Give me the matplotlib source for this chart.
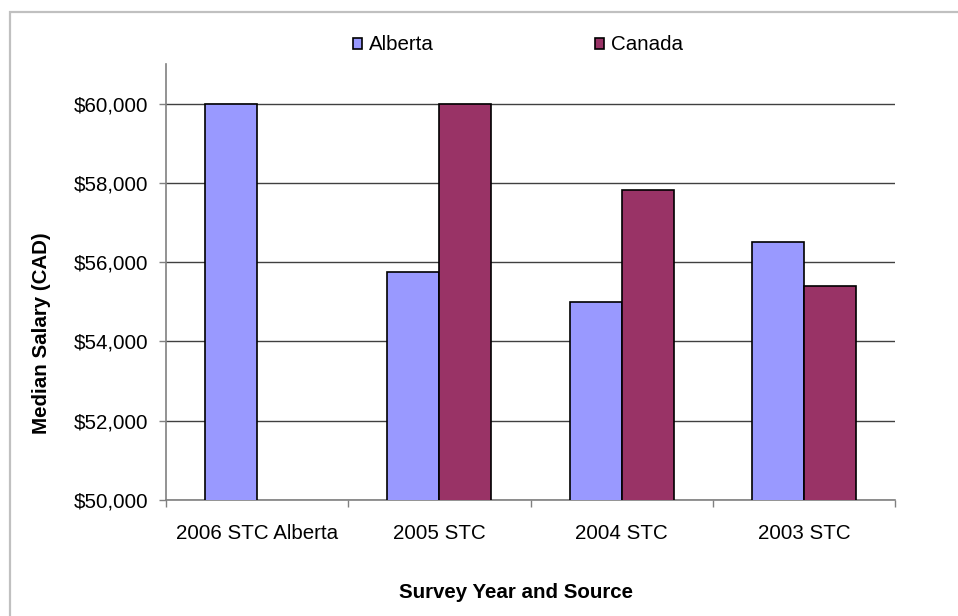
import matplotlib
matplotlib.use('Agg')
import matplotlib.pyplot as plt
from matplotlib.patches import Rectangle
from matplotlib.ticker import FuncFormatter, FixedLocator
import numpy as np

# data
categories = ['2006 STC Alberta', '2005 STC', '2004 STC', '2003 STC']
alberta = [60000, 55750, 55000, 56500]
canada = [np.nan, 60000, 57830, 55410]
series_names = ['Alberta', 'Canada']
colors = ['#9999FF', '#993366']

plt.rcParams['font.family'] = ['Liberation Sans', 'DejaVu Sans']
fs = 14.8

W, H = 958, 616
fig = plt.figure(figsize=(W / 100, H / 100), dpi=100)
ax = fig.add_axes([166 / W, 1 - 500 / H, (895 - 166) / W, (500 - 64) / H])

# outer chart frame (light grey, runs off the right and bottom edge)
fig.patches.append(Rectangle((10 / W, -0.1), 1.2, 1 - 12 / H + 0.1,
                             transform=fig.transFigure, fill=False,
                             edgecolor='#c0c0c0', lw=1.6, zorder=0))

x = np.arange(len(categories))
bw = 1 / 3.5
ax.bar(x - bw / 2, alberta, bw, color=colors[0], edgecolor='black', lw=1.2,
       label=series_names[0], zorder=3)
ax.bar(x + bw / 2, canada, bw, color=colors[1], edgecolor='black', lw=1.2,
       label=series_names[1], zorder=3)

ax.set_xlim(-0.5, len(categories) - 0.5)
ax.set_ylim(50000, 61000)
ax.set_yticks(np.arange(50000, 60001, 2000))
ax.yaxis.set_major_formatter(FuncFormatter(lambda v, p: '${:,.0f}'.format(v)))
ax.grid(axis='y', color='#404040', lw=1.0, zorder=1)

ax.set_xticks(x)
ax.set_xticklabels(categories)
ax.xaxis.set_minor_locator(FixedLocator(np.arange(-0.5, len(categories), 1.0)))
ax.tick_params(axis='x', which='major', length=0, pad=17, labelsize=fs)
ax.tick_params(axis='x', which='minor', length=5, width=1, color='#808080')
ax.tick_params(axis='y', length=5, width=1, color='#808080', pad=8, labelsize=fs)

for s in ['top', 'right']:
    ax.spines[s].set_visible(False)
for s in ['left', 'bottom']:
    ax.spines[s].set_color('#808080')
    ax.spines[s].set_linewidth(1.2)

fig.text(42 / W, 1 - 333 / H, 'Median Salary (CAD)', rotation=90,
         ha='center', va='center', fontsize=fs, fontweight='bold')
fig.text(516 / W, 1 - 592 / H, 'Survey Year and Source',
         ha='center', va='center', fontsize=fs, fontweight='bold')

leg = ax.legend(loc='center', bbox_to_anchor=(518 / W, 1 - 45 / H),
                bbox_transform=fig.transFigure, ncol=2, frameon=False,
                fontsize=fs, handlelength=0.45, handleheight=0.45,
                handletextpad=0.35, columnspacing=7.8)

fig.savefig('out.png', dpi=100)
